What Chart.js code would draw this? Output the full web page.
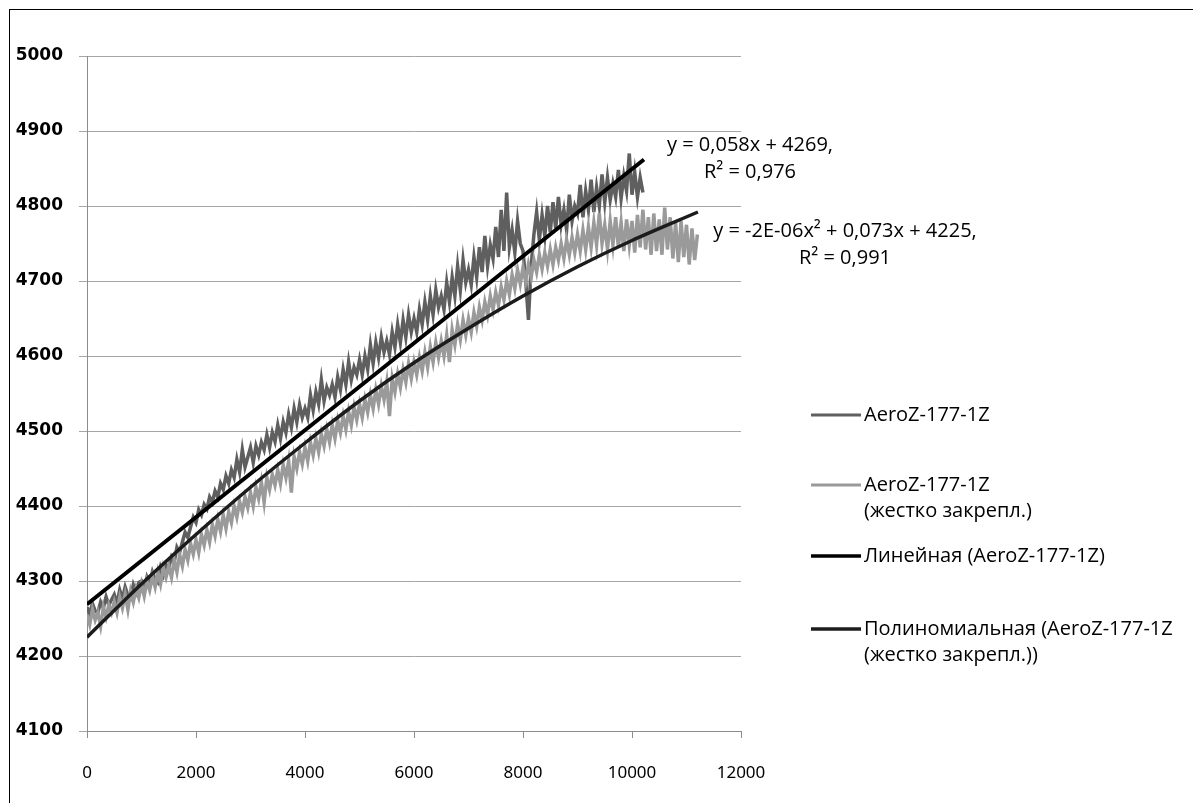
<!DOCTYPE html>
<html>
<head>
<meta charset="utf-8">
<script src="https://cdn.jsdelivr.net/npm/chart.js@4.4.0/dist/chart.umd.min.js"></script>
<style>
  html, body { margin: 0; padding: 0; background: #fff; }
  #wrap { position: relative; width: 1193px; height: 803px; }
</style>
</head>
<body>
<div id="wrap"><canvas id="chart" width="1193" height="803"></canvas></div>
<script>
// x step of the measured series
const step = 50;

// AeroZ-177-1Z, x = 0..10200
const darkY = [
  4265, 4256, 4270, 4260, 4258, 4272, 4264, 4279, 4268, 4275,
  4282, 4270, 4288, 4276, 4292, 4281, 4277, 4295, 4285, 4298,
  4300, 4288, 4305, 4296, 4312, 4302, 4298, 4318, 4308, 4322,
  4318, 4332, 4325, 4345, 4338, 4352, 4365, 4358, 4372, 4385,
  4378, 4395, 4388, 4402, 4396, 4412, 4405, 4420, 4412, 4430,
  4422, 4440, 4430, 4448, 4438, 4462, 4445, 4475, 4452, 4465,
  4478, 4458, 4480, 4468, 4485, 4475, 4495, 4478, 4498, 4486,
  4508, 4490, 4512, 4498, 4522, 4505, 4530, 4512, 4535, 4518,
  4530, 4518, 4548, 4528, 4552, 4536, 4568, 4540, 4558, 4548,
  4562, 4545, 4572, 4555, 4582, 4562, 4592, 4568, 4585, 4575,
  4595, 4575, 4600, 4582, 4615, 4590, 4618, 4598, 4625, 4605,
  4620, 4602, 4632, 4612, 4642, 4618, 4648, 4625, 4655, 4632,
  4650, 4632, 4662, 4642, 4672, 4648, 4680, 4655, 4688, 4665,
  4680, 4662, 4698, 4672, 4705, 4680, 4720, 4688, 4728, 4698,
  4715, 4695, 4732, 4705, 4745, 4712, 4760, 4720, 4748, 4730,
  4772, 4732, 4795, 4740, 4818, 4745, 4768, 4738, 4780, 4750,
  4740, 4700, 4648, 4720, 4762, 4792, 4755, 4788, 4760, 4800,
  4765, 4805, 4770, 4812, 4775, 4795, 4768, 4815, 4780, 4800,
  4790, 4828, 4785, 4820, 4795, 4835, 4792, 4825, 4800, 4842,
  4805, 4838, 4808, 4830, 4812, 4848, 4810, 4840, 4820, 4870,
  4815, 4845, 4812, 4838, 4818
];

// AeroZ-177-1Z (жестко закрепл.), x = 0..11200
const lightY = [
  4255, 4242, 4262, 4248, 4258, 4240, 4265, 4252, 4268, 4258,
  4272, 4258, 4278, 4264, 4282, 4262, 4286, 4272, 4290, 4278,
  4296, 4280, 4300, 4288, 4306, 4292, 4312, 4296, 4318, 4305,
  4320, 4305, 4328, 4312, 4335, 4320, 4342, 4328, 4350, 4336,
  4355, 4338, 4362, 4348, 4368, 4352, 4375, 4360, 4382, 4366,
  4388, 4370, 4392, 4378, 4400, 4385, 4406, 4392, 4412, 4398,
  4418, 4400, 4425, 4410, 4432, 4405, 4438, 4422, 4442, 4428,
  4448, 4430, 4455, 4438, 4460, 4418, 4466, 4450, 4472, 4456,
  4478, 4460, 4485, 4468, 4490, 4472, 4496, 4480, 4502, 4485,
  4508, 4490, 4514, 4498, 4520, 4502, 4526, 4508, 4532, 4515,
  4536, 4518, 4542, 4525, 4548, 4530, 4555, 4536, 4560, 4542,
  4565, 4520, 4570, 4552, 4576, 4558, 4582, 4565, 4590, 4570,
  4592, 4575, 4598, 4580, 4605, 4585, 4612, 4592, 4618, 4598,
  4620, 4600, 4628, 4592, 4635, 4615, 4642, 4622, 4648, 4628,
  4650, 4632, 4658, 4640, 4665, 4648, 4672, 4655, 4680, 4662,
  4685, 4668, 4692, 4675, 4700, 4682, 4708, 4690, 4715, 4696,
  4718, 4700, 4722, 4705, 4728, 4712, 4735, 4716, 4738, 4720,
  4742, 4722, 4745, 4728, 4750, 4730, 4755, 4735, 4758, 4738,
  4762, 4740, 4768, 4742, 4772, 4745, 4778, 4748, 4790, 4750,
  4775, 4742, 4780, 4748, 4785, 4745, 4778, 4740, 4782, 4748,
  4780, 4738, 4788, 4745, 4795, 4742, 4785, 4735, 4790, 4740,
  4782, 4735, 4798, 4742, 4785, 4730, 4778, 4725, 4780, 4732,
  4775, 4722, 4770, 4728, 4762
];

// trendlines
const linearX = [0, 10220];
const linearY = [4269, 4862];
const polyX = [0, 1000, 2000, 3000, 4000, 5000, 6000, 7000, 8000, 9000, 10000, 11210];
const polyY = [4225, 4296, 4362, 4425, 4484, 4540, 4591, 4637, 4680, 4719, 4754, 4792];

const xTicks = [0, 2000, 4000, 6000, 8000, 10000, 12000];
const yTicks = [4100, 4200, 4300, 4400, 4500, 4600, 4700, 4800, 4900, 5000];

const legendItems = [
  { lines: ["AeroZ-177-1Z"], color: "#5f5f5f", y: 415 },
  { lines: ["AeroZ-177-1Z", "(жестко закрепл.)"], color: "#9a9a9a", y: 485 },
  { lines: ["Линейная (AeroZ-177-1Z)"], color: "#000000", y: 556 },
  { lines: ["Полиномиальная (AeroZ-177-1Z", "(жестко закрепл.))"], color: "#1c1c1c", y: 629 },
];
const equations = [
  { lines: ["y = 0,058x + 4269,", "R² = 0,976"], cx: 750, y: 145 },
  { lines: ["y = -2E-06x² + 0,073x + 4225,", "R² = 0,991"], cx: 845, y: 231 },
];

const toPoints = (ys) => ys.map((v, i) => ({ x: i * step, y: v }));
const pair = (xs, ys) => xs.map((x, i) => ({ x: x, y: ys[i] }));

const textFont = "20px 'Open Sans'";

const ctx = document.getElementById("chart").getContext("2d");
const myChart = new Chart(ctx, {
  type: "scatter",
  data: {
    datasets: [
      {
        label: "AeroZ-177-1Z",
        data: toPoints(darkY),
        borderColor: "#5f5f5f",
        borderWidth: 3.5,
        showLine: true,
        pointRadius: 0,
        order: 4,
      },
      {
        label: "AeroZ-177-1Z (жестко закрепл.)",
        data: toPoints(lightY),
        borderColor: "#9a9a9a",
        borderWidth: 3.5,
        showLine: true,
        pointRadius: 0,
        order: 3,
      },
      {
        label: "Линейная (AeroZ-177-1Z)",
        data: pair(linearX, linearY),
        borderColor: "#000000",
        borderWidth: 4,
        showLine: true,
        pointRadius: 0,
        order: 1,
      },
      {
        label: "Полиномиальная (AeroZ-177-1Z (жестко закрепл.))",
        data: pair(polyX, polyY),
        borderColor: "#1c1c1c",
        borderWidth: 3.5,
        showLine: true,
        cubicInterpolationMode: "monotone",
        pointRadius: 0,
        order: 2,
      },
    ],
  },
  options: {
    responsive: false,
    animation: false,
    layout: { padding: { top: 56, right: 452, bottom: 0, left: 0 } },
    scales: {
      x: {
        type: "linear",
        min: 0,
        max: 12000,
        afterBuildTicks: (s) => { s.ticks = xTicks.map((v) => ({ value: v })); },
        afterFit: (s) => { s.height = 72; },
        grid: { drawOnChartArea: false, tickLength: 7, color: "#8c8c8c" },
        border: { color: "#8c8c8c" },
        ticks: {
          color: "#000", padding: 25, maxRotation: 0,
          font: { family: "Noto Sans", size: 17 },
          callback: (v) => String(v),
        },
      },
      y: {
        min: 4100,
        max: 5000,
        afterBuildTicks: (s) => { s.ticks = yTicks.map((v) => ({ value: v })); },
        afterFit: (s) => { s.width = 87; },
        grid: { color: "#a6a6a6", tickLength: 8 },
        border: { color: "#8c8c8c" },
        ticks: {
          color: "#000", padding: 16,
          font: { family: "DejaVu Sans", size: 17, weight: "bold" },
          callback: (v) => String(v),
        },
      },
    },
    plugins: {
      legend: { display: false },
      tooltip: { enabled: false },
    },
  },
  plugins: [
    {
      id: "frame-legend",
      beforeDraw: function (chart) {
        const c = chart.ctx;
        c.save();
        c.fillStyle = "#fff";
        c.fillRect(0, 0, chart.width, chart.height);
        c.strokeStyle = "#000";
        c.lineWidth = 1;
        c.strokeRect(9.5, 9.5, 1400, 1000);
        c.restore();
      },
      afterDraw: function (chart) {
        const c = chart.ctx;
        c.save();
        c.font = textFont;
        c.textBaseline = "middle";
        c.fillStyle = "#000";
        // legend
        legendItems.forEach((it, k) => {
          c.strokeStyle = it.color;
          c.lineWidth = k < 2 ? 3 : 3.5;
          c.beginPath();
          c.moveTo(811, it.y);
          c.lineTo(861, it.y);
          c.stroke();
          c.textAlign = "left";
          it.lines.forEach((t, j) => c.fillText(t, 864, it.y + j * 26));
        });
        // trendline equations
        c.textAlign = "center";
        equations.forEach((eq) => {
          eq.lines.forEach((t, j) => c.fillText(t, eq.cx, eq.y + j * 27));
        });
        c.restore();
      },
    },
  ],
});
</script>
</body>
</html>
